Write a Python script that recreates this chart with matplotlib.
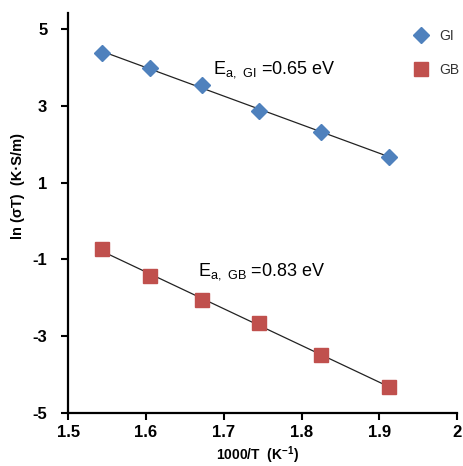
import numpy as np
import matplotlib
matplotlib.use('Agg')
import matplotlib.pyplot as plt

plt.rcParams['font.family'] = ['Liberation Sans', 'DejaVu Sans']
plt.rcParams['mathtext.fontset'] = 'custom'
plt.rcParams['mathtext.rm'] = 'Liberation Sans'
plt.rcParams['axes.unicode_minus'] = False

# 1000/T (K^-1)
inv_T = [1.543, 1.605, 1.672, 1.745, 1.825, 1.912]
# ln(sigma T) for grain interior and grain boundary
ln_gi = [4.38, 3.99, 3.54, 2.87, 2.32, 1.68]
ln_gb = [-0.74, -1.42, -2.06, -2.67, -3.48, -4.32]

blue = '#4F81BD'
red = '#C0504D'

fig = plt.figure(figsize=(4.64, 4.66), dpi=100)
ax = fig.add_axes([0.147, 0.114, 0.838, 0.858])

x = np.array(inv_T)
for y in (ln_gi, ln_gb):
    k, b = np.polyfit(x, y, 1)
    ax.plot(x, k * x + b, color='#222222', lw=0.9, zorder=1)

ax.plot(inv_T, ln_gi, 'D', color=blue, ms=8, ls='none', label='GI', zorder=2)
ax.plot(inv_T, ln_gb, 's', color=red, ms=9.5, ls='none', label='GB', zorder=2)

ax.text(1.686, 3.94, r'E$_{\mathregular{a,\ GI}}$ =0.65 eV', fontsize=13, va='center')
ax.text(1.667, -1.31, r'E$_{\mathregular{a,\ GB}}$ =0.83 eV', fontsize=13, va='center')

ax.set_xlim(1.5, 2.0)
ax.set_ylim(-5, 5.42)
ax.set_xticks([1.5, 1.6, 1.7, 1.8, 1.9, 2.0])
ax.set_xticklabels(['1.5', '1.6', '1.7', '1.8', '1.9', '2'])
ax.set_yticks([-5, -3, -1, 1, 3, 5])

for s in ('top', 'right'):
    ax.spines[s].set_visible(False)
for s in ('left', 'bottom'):
    ax.spines[s].set_linewidth(1.6)
ax.tick_params(direction='out', length=5, width=1.5, labelsize=12)
ax.tick_params(axis='y', pad=10)
for lab in ax.get_xticklabels() + ax.get_yticklabels():
    lab.set_fontweight('bold')

ax.set_xlabel(r'1000/T  (K$^{\mathregular{-1}}$)', fontsize=10, fontweight='bold')
ax.set_ylabel('ln (σT)  (K·S/m)', fontsize=10.5, fontweight='bold')
ax.xaxis.set_label_coords(0.487, -0.08)
ax.yaxis.set_label_coords(-0.11, 0.567)

ax.legend(loc='upper left', bbox_to_anchor=(0.889, 0.96), frameon=False, fontsize=10,
          borderaxespad=0, borderpad=0, handlelength=1, handletextpad=0.8,
          labelspacing=1.45, labelcolor='#333333')

fig.savefig('out.png', dpi=100)
